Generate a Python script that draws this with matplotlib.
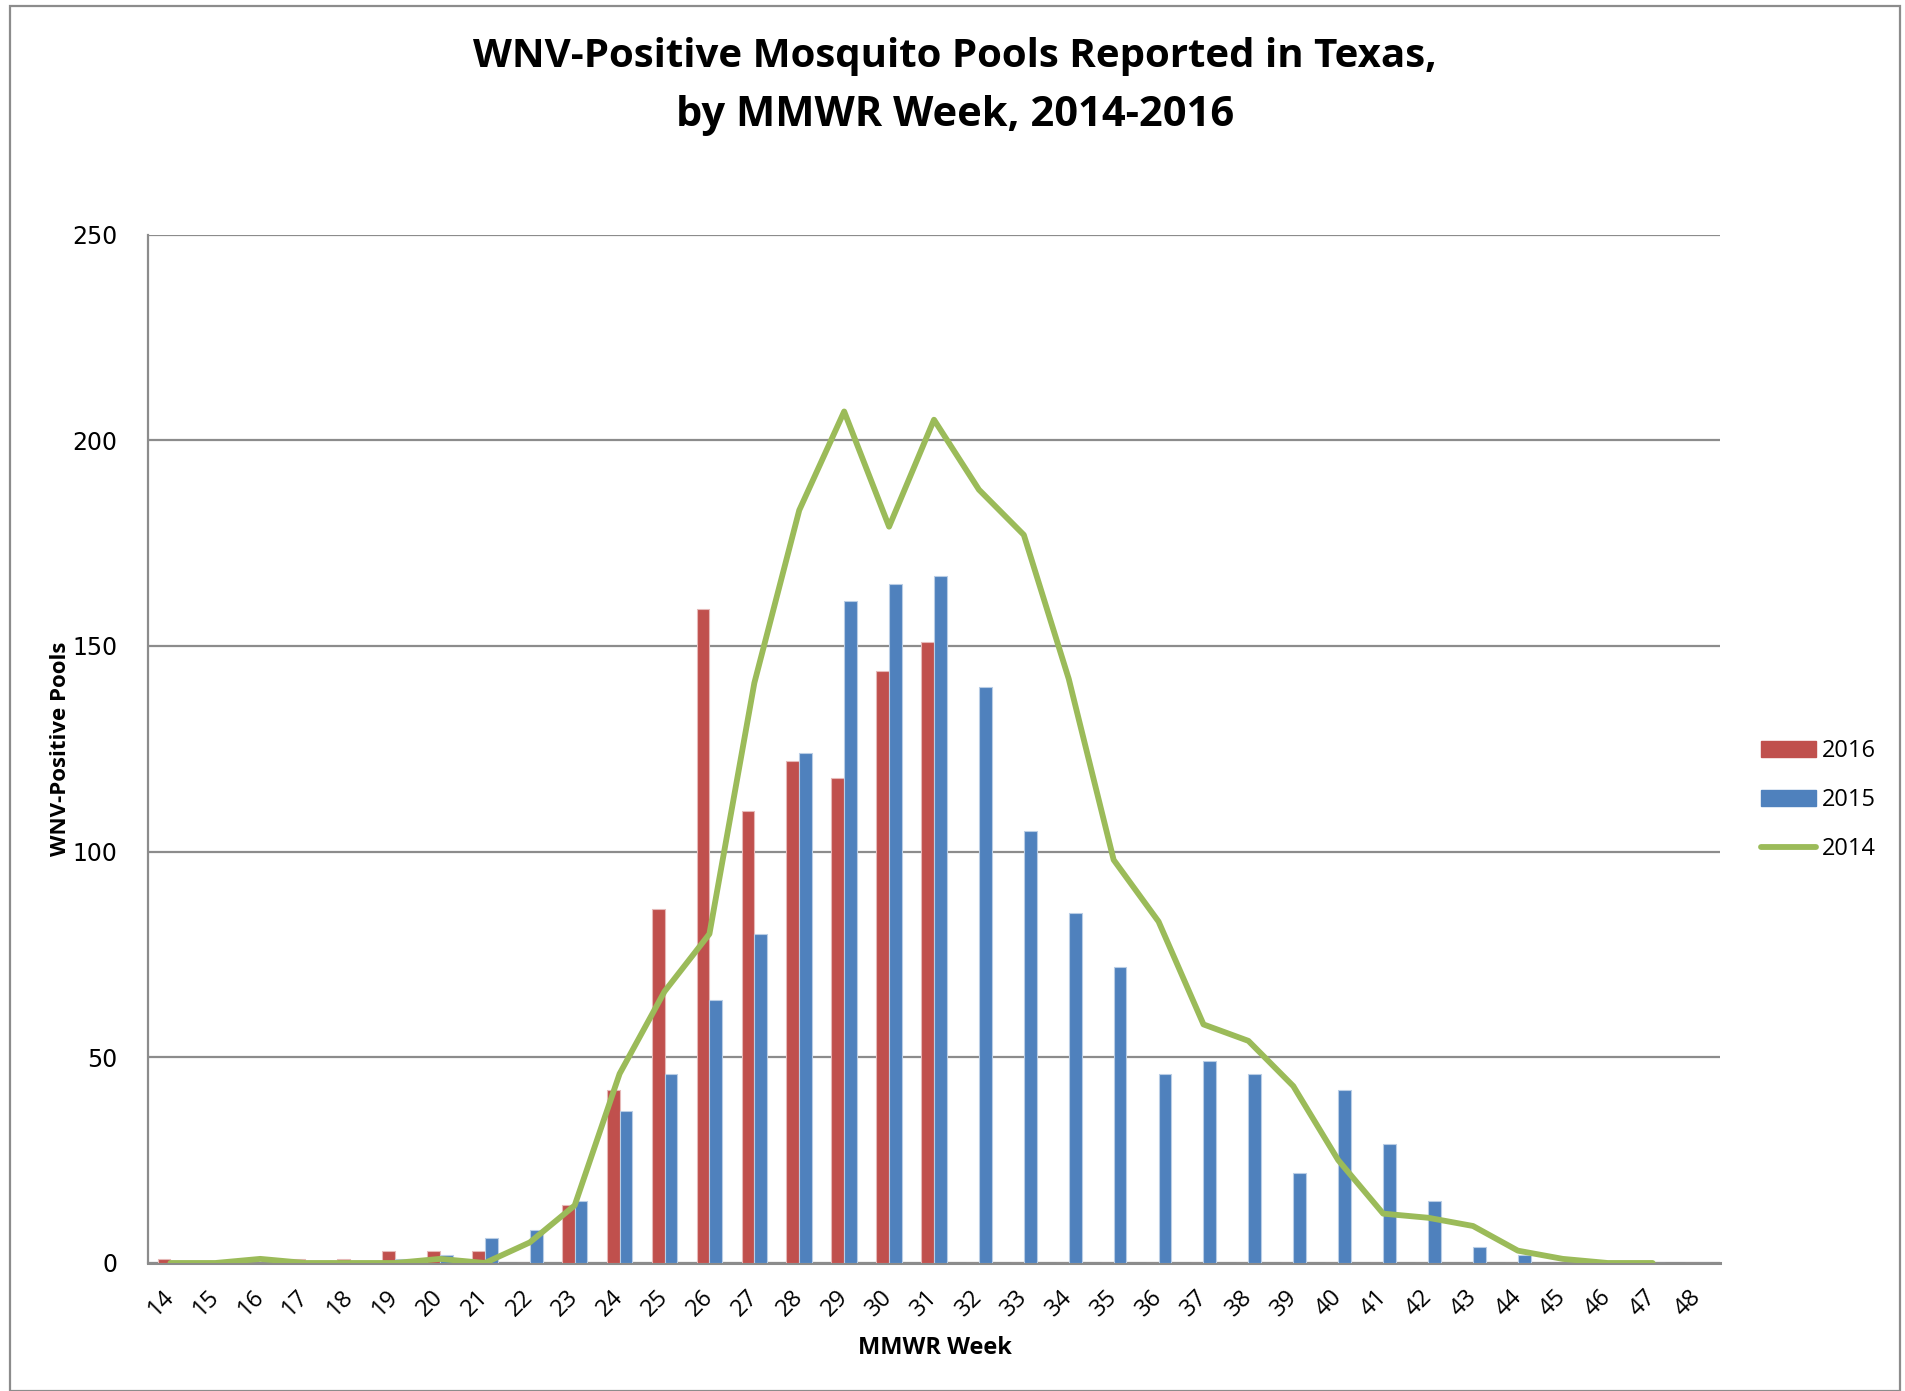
import numpy as np
import matplotlib
matplotlib.use("Agg")
import matplotlib.pyplot as plt
from matplotlib.patches import Patch, Rectangle
from matplotlib.lines import Line2D

weeks = [str(w) for w in range(14, 49)]
nan = np.nan
y2016 = [1, 0, 0, 1, 1, 3, 3, 3, 0, 14, 42, 86, 159, 110, 122, 118, 144, 151,
         nan, nan, nan, nan, nan, nan, nan, nan, nan, nan, nan, nan, nan, nan, nan, nan, nan]
y2015 = [0, 0, 0, 0, 0, 1, 2, 6, 8, 15, 37, 46, 64, 80, 124, 161, 165, 167,
         140, 105, 85, 72, 46, 49, 46, 22, 42, 29, 15, 4, 2, 0, 0, 0, 0]
y2014 = [0, 0, 1, 0, 0, 0, 1, 0, 5, 14, 46, 66, 80, 141, 183, 207, 179, 205,
         188, 177, 142, 98, 83, 58, 54, 43, 25, 12, 11, 9, 3, 1, 0, 0, nan]
series_labels = ["2016", "2015", "2014"]
yticks = [0, 50, 100, 150, 200, 250]

RED = "#C0504D"
BLUE = "#4F81BD"
GREEN = "#9BBB59"
GRID = "#8C8C8C"

W, H = 1906, 1391
fig = plt.figure(figsize=(W / 100, H / 100), dpi=100)
ax = fig.add_axes([148 / W, 1 - 1263 / H, (1720 - 148) / W, (1263 - 234.6) / H])

x = np.arange(len(weeks))
bw = 0.285
ax.bar(x - bw / 2, np.nan_to_num(y2016), width=bw, color=RED,
       edgecolor="#E6B9B8", linewidth=0.8, zorder=3)
ax.bar(x + bw / 2, y2015, width=bw, color=BLUE,
       edgecolor="#B9CDE5", linewidth=0.8, zorder=3)
ax.plot(x, y2014, color=GREEN, linewidth=4.2, solid_joinstyle="round",
        solid_capstyle="round", zorder=4)

ax.set_xlim(-0.5, len(weeks) - 0.5)
ax.set_ylim(0, 250)
ax.set_yticks(yticks)
ax.set_yticklabels([str(t) for t in yticks], fontfamily="DejaVu Sans", fontsize=17)
ax.set_xticks(x)
ax.set_xticklabels(weeks, rotation=45, ha="right", va="center",
                   rotation_mode="anchor", fontfamily="Open Sans", fontsize=17)
ax.tick_params(axis="y", length=0, pad=22)
ax.tick_params(axis="x", length=0, pad=22)

ax.grid(axis="y", color=GRID, linewidth=1.6, zorder=0)
ax.set_axisbelow(True)
for s in ["top", "right"]:
    ax.spines[s].set_visible(False)
ax.spines["left"].set_color(GRID)
ax.spines["left"].set_linewidth(1.6)
ax.spines["bottom"].set_color(GRID)
ax.spines["bottom"].set_linewidth(2.2)
ax.spines["bottom"].set_zorder(2)

fig.text(61 / W, 1 - 749 / H, "WNV-Positive Pools", rotation=90, ha="center", va="center",
         fontfamily="Open Sans", fontweight="bold", fontsize=16)
fig.text(935 / W, 1 - 1348 / H, "MMWR Week", ha="center", va="center",
         fontfamily="Open Sans", fontweight="bold", fontsize=17)
fig.text(955 / W, 1 - 57 / H, "WNV-Positive Mosquito Pools Reported in Texas,", ha="center",
         va="center", fontfamily="Open Sans", fontweight="bold", fontsize=29)
fig.text(955 / W, 1 - 115 / H, "by MMWR Week, 2014-2016", ha="center",
         va="center", fontfamily="Open Sans", fontweight="bold", fontsize=30)

handles = [Patch(facecolor=RED, edgecolor=RED),
           Patch(facecolor=BLUE, edgecolor=BLUE),
           Line2D([0], [0], color=GREEN, linewidth=4.2, solid_capstyle="round")]
leg = fig.legend(handles, series_labels, loc="center left",
                 bbox_to_anchor=(1740 / W, 1 - 800 / H), frameon=False,
                 prop={"family": "Open Sans", "size": 17}, handlelength=2.3,
                 handleheight=0.66, handletextpad=0.25, labelspacing=1.05)

fig.patches.append(Rectangle((10 / W, 0), (1900 - 10) / W, 1 - 6 / H,
                             transform=fig.transFigure, fill=False,
                             edgecolor="#8C8C8C", linewidth=1.6))

fig.savefig("out.png", dpi=100, facecolor="white")
